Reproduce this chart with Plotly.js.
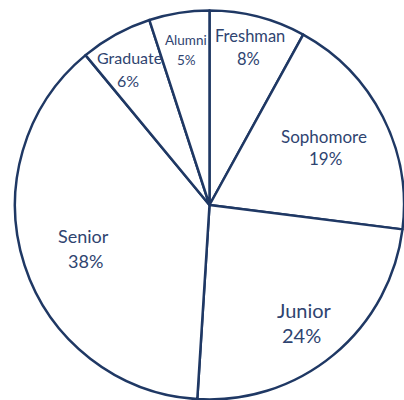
<!DOCTYPE html>
<html><head><meta charset="utf-8">
<script src="https://cdn.plot.ly/plotly-3.0.1.min.js"></script>
<style>html,body{margin:0;padding:0;background:#fff}</style>
</head><body>
<div id="chart" style="width:404px;height:400px"></div>
<script>
const categories = ["Freshman", "Sophomore", "Junior", "Senior", "Graduate", "Alumni"];
const shares = [8, 19, 24, 38, 6, 5];

// label placement (pixels in the 404x400 page): [nameX, nameY, pctX, pctY], and font sizes
const labelPos = [
  [250, 36, 249, 59],
  [324, 136, 325, 158],
  [304, 310, 301, 335],
  [83, 236, 85, 261],
  [129, 57, 128, 80],
  [186, 40, 186, 60]
];
const labelSizes = [16.5, 17, 20, 18, 16, 13.5];

const ML = 15, MT = 10, PW = 389, PH = 390;
const total = shares.reduce((a, b) => a + b, 0);
const px = x => (x - ML) / PW;
const py = y => 1 - (y - MT) / PH;
const annotations = [];
categories.forEach((c, i) => {
  const p = labelPos[i];
  const font = {family: 'Lato, Open Sans, sans-serif', size: labelSizes[i], color: '#2F4470'};
  annotations.push({xref: 'paper', yref: 'paper', x: px(p[0]), y: py(p[1]),
    xanchor: 'center', yanchor: 'middle', showarrow: false, text: c, font: font});
  annotations.push({xref: 'paper', yref: 'paper', x: px(p[2]), y: py(p[3]),
    xanchor: 'center', yanchor: 'middle', showarrow: false,
    text: Math.round(shares[i] / total * 100) + '%', font: font});
});

Plotly.newPlot('chart', [{
  type: 'pie',
  labels: categories,
  values: shares,
  sort: false,
  direction: 'clockwise',
  rotation: 0,
  textinfo: 'none',
  marker: {colors: categories.map(() => '#ffffff'), line: {color: '#1F3864', width: 2.5}},
  hoverinfo: 'none'
}], {
  width: 404, height: 400,
  margin: {l: ML, r: 0, t: MT, b: 0},
  showlegend: false,
  paper_bgcolor: '#ffffff',
  annotations: annotations
}, {displayModeBar: false, staticPlot: true});
</script>
</body></html>
